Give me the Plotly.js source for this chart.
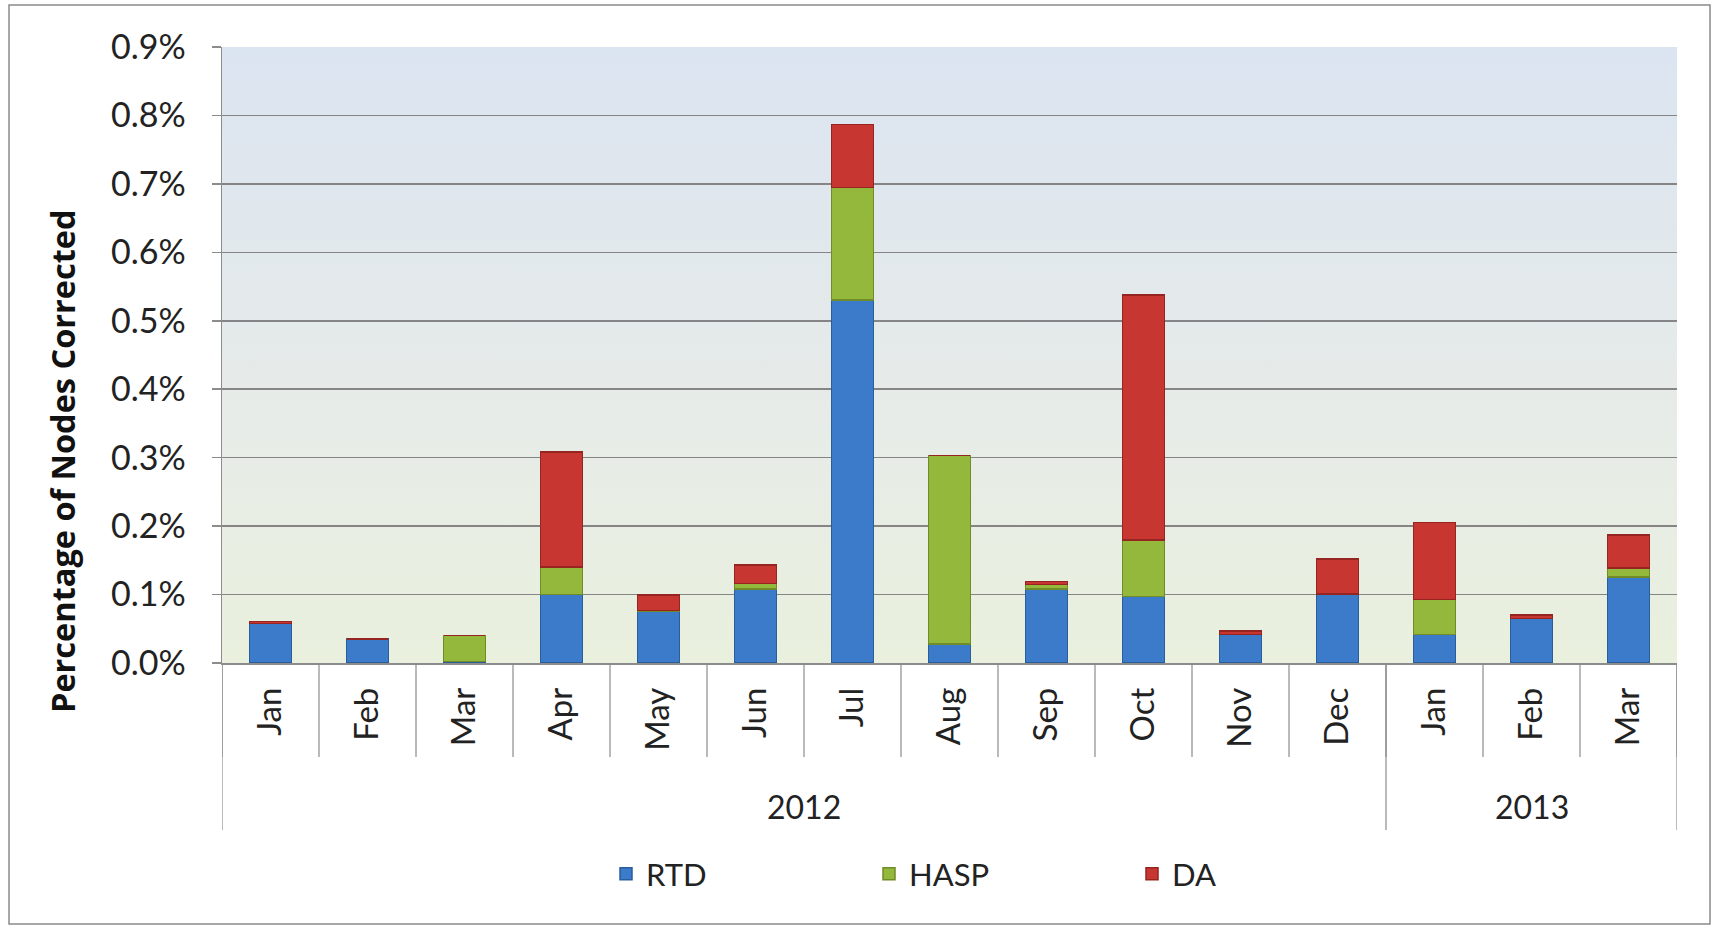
<!DOCTYPE html>
<html>
<head>
<meta charset="utf-8">
<script src="https://cdn.plot.ly/plotly-3.0.1.min.js"></script>
<style>
html,body{margin:0;padding:0;background:#fff;}
#chart{width:1719px;height:927px;}
</style>
</head>
<body>
<div id="chart"></div>
<script>
// ---- data (values in percent) ----
const months = ["Jan","Feb","Mar","Apr","May","Jun","Jul","Aug","Sep","Oct","Nov","Dec","Jan","Feb","Mar"];
const years = ["2012","2013"];
const yearMonthCounts = [12, 3];
const rtd  = [0.058,0.035,0.002,0.100,0.075,0.108,0.530,0.028,0.108,0.097,0.042,0.101,0.042,0.065,0.126];
const hasp = [0.000,0.000,0.038,0.040,0.002,0.008,0.165,0.275,0.007,0.083,0.000,0.000,0.051,0.000,0.013];
const da   = [0.003,0.000,0.000,0.168,0.022,0.027,0.092,0.000,0.004,0.358,0.005,0.051,0.112,0.005,0.048];
const yTicks = [0,0.1,0.2,0.3,0.4,0.5,0.6,0.7,0.8,0.9];
const yTickText = yTicks.map(v => v.toFixed(1) + "%");

const xIdx = months.map((m,i) => i);
const FONT = "Lato, 'Open Sans', sans-serif";

function barTrace(name, vals, color, line) {
  return {
    type: "bar", name: name, x: xIdx, y: vals,
    marker: {color: color, line: {color: line, width: 1.5}},
    hoverinfo: "name+y"
  };
}
const traces = [
  barTrace("RTD", rtd, "#3b7bc9", "#2a5d9c"),
  barTrace("HASP", hasp, "#94b83b", "#6f8c28"),
  barTrace("DA", da, "#c83632", "#962522")
];

// plot area geometry in pixels
const L = 222, R = 42, T = 47, B = 264;
const W = 1719 - L - R, H = 927 - T - B;
const px = x => (x - L) / W;           // pixel x -> paper
const py = y => (927 - B - y) / H;     // pixel y -> paper

const shapes = [];
// month dividers
const yMonthBottom = py(757);
for (let k = 0; k <= months.length; k++) {
  shapes.push({type:"line", xref:"x", yref:"paper", x0:k-0.5, x1:k-0.5, y0:0, y1:yMonthBottom,
               line:{color:"#8c8c8c", width:1.2}});
}
// year dividers
const yYearBottom = py(830);
let acc = 0;
const yearCenters = [];
const boundaries = [0];
yearMonthCounts.forEach(c => { yearCenters.push(acc + c/2 - 0.5); acc += c; boundaries.push(acc); });
boundaries.forEach(b => {
  shapes.push({type:"line", xref:"x", yref:"paper", x0:b-0.5, x1:b-0.5, y0:0, y1:yYearBottom,
               line:{color:"#8c8c8c", width:1.2}});
});
// outer chart border
shapes.push({type:"rect", xref:"paper", yref:"paper", x0:px(9), x1:px(1710), y0:py(924), y1:py(5),
             line:{color:"#8a8a8a", width:1.5}, fillcolor:"rgba(0,0,0,0)", layer:"below"});

const annotations = years.map((yr,i) => ({
  text: yr, xref:"x", yref:"paper", x: yearCenters[i], y: py(806), showarrow:false,
  font:{family:FONT, size:32, color:"#222"}, xanchor:"center", yanchor:"middle"
}));
annotations.push({
  text: "<b>Percentage of Nodes Corrected</b>", xref:"paper", yref:"paper",
  x: px(62), y: py(461), textangle:-90, showarrow:false,
  font:{family:"'Open Sans', Lato, sans-serif", size:32.5, color:"#111"}, xanchor:"center", yanchor:"middle"
});

const gradSvg = "<svg xmlns='http://www.w3.org/2000/svg' width='100' height='100' preserveAspectRatio='none'>" +
  "<defs><linearGradient id='g' x1='0' y1='0' x2='0' y2='1'>" +
  "<stop offset='0' stop-color='#dbe4f1'/><stop offset='0.55' stop-color='#e6ebe9'/><stop offset='1' stop-color='#e9f0dd'/>" +
  "</linearGradient></defs><rect width='100' height='100' fill='url(#g)'/></svg>";

const layout = {
  width: 1719, height: 927,
  margin: {l:L, r:R, t:T, b:B},
  paper_bgcolor: "#ffffff",
  plot_bgcolor: "rgba(0,0,0,0)",
  barmode: "stack",
  bargap: 0.57,
  font: {family: FONT, color:"#222"},
  images: [{
    source: "data:image/svg+xml;charset=utf-8," + encodeURIComponent(gradSvg),
    xref:"paper", yref:"paper", x:0, y:1, sizex:1, sizey:1,
    sizing:"stretch", layer:"below", xanchor:"left", yanchor:"top"
  }],
  xaxis: {
    range: [-0.5, months.length - 0.5],
    tickvals: xIdx, ticktext: months, tickangle: -90,
    tickfont: {family:FONT, size:33, color:"#222"},
    ticks: "", showgrid: false, zeroline: false,
    showline: true, linecolor: "#8c8c8c", linewidth: 1.5,
    ticklabelstandoff: 10, fixedrange: true
  },
  yaxis: {
    range: [0, 0.9],
    tickvals: yTicks, ticktext: yTickText,
    tickfont: {family:FONT, size:34, color:"#222"},
    ticks: "outside", ticklen: 9, tickcolor:"#8c8c8c", tickwidth:1.5,
    showgrid: true, gridcolor: "#858585", gridwidth: 1.6,
    zeroline: false, showline: true, linecolor:"#8c8c8c", linewidth:1.5,
    ticklabelstandoff: 19, fixedrange: true
  },
  showlegend: true,
  legend: {
    orientation: "h", x: px(606), y: py(874), xanchor:"left", yanchor:"middle",
    font: {family:FONT, size:31, color:"#222"},
    entrywidth: 218, entrywidthmode: "pixels",
    itemwidth: 30, traceorder: "normal", bgcolor:"rgba(0,0,0,0)"
  },
  shapes: shapes,
  annotations: annotations
};

Plotly.newPlot("chart", traces, layout, {displayModeBar:false, staticPlot:true});
</script>
</body>
</html>
